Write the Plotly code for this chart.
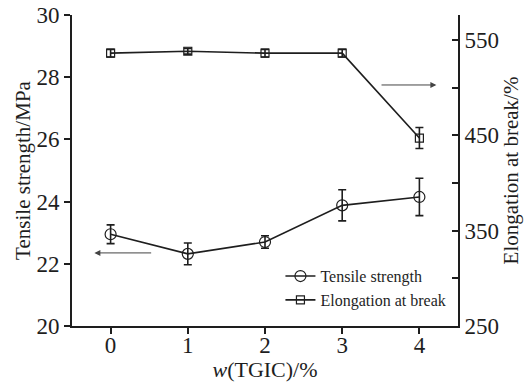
import plotly.graph_objects as go

x_vals = [0, 1, 2, 3, 4]
tensile = [22.95, 22.32, 22.7, 23.88, 24.15]
tensile_err = [0.30, 0.35, 0.2, 0.5, 0.6]
elong = [536, 538, 536, 536, 447]
elong_err = [4, 3, 4, 4, 11]

FONT = "Liberation Serif"
DARK = "#1e1e1e"

fig = go.Figure()
fig.add_trace(go.Scatter(
    x=x_vals, y=tensile, name="Tensile strength", mode="lines+markers",
    line=dict(color=DARK, width=1.6),
    marker=dict(symbol="circle-open", size=11, color=DARK, line=dict(width=1.2)),
    error_y=dict(type="data", array=tensile_err, color=DARK, thickness=1.6, width=4),
    yaxis="y"))
fig.add_trace(go.Scatter(
    x=x_vals, y=elong, name="Elongation at break", mode="lines+markers",
    line=dict(color=DARK, width=1.6),
    marker=dict(symbol="square-open", size=8, color=DARK, line=dict(width=1.2)),
    error_y=dict(type="data", array=elong_err, color=DARK, thickness=1.6, width=4),
    yaxis="y2"))

fig.update_layout(
    width=531, height=382,
    margin=dict(l=72, r=73, t=15, b=56, autoexpand=False),
    paper_bgcolor="white", plot_bgcolor="white",
    font=dict(family=FONT, color=DARK, size=23),
    xaxis=dict(range=[-0.5, 4.5], tickvals=x_vals, ticktext=[str(v) for v in x_vals],
               showline=True, linecolor=DARK, linewidth=2, ticks="outside", ticklen=6,
               tickwidth=2, tickcolor=DARK, showgrid=False, zeroline=False,
               tickfont=dict(size=23), automargin=False, ticklabelstandoff=-9,
               title=dict(text="<i>w</i>(TGIC)/%", font=dict(size=22), standoff=0)),
    yaxis=dict(range=[20, 30], tickvals=[20, 22, 24, 26, 28, 30],
               showline=True, linecolor=DARK, linewidth=2, ticks="outside", ticklen=6,
               tickwidth=2, tickcolor=DARK, showgrid=False, zeroline=False,
               tickfont=dict(size=23), automargin=False,
               title=dict(text="Tensile strength/MPa", font=dict(size=21), standoff=0)),
    yaxis2=dict(range=[250, 576], overlaying="y", side="right",
                tickvals=[250, 300, 350, 400, 450, 500, 550],
                ticktext=["250", "", "350", "", "450", "", "550"],
                showline=True, linecolor=DARK, linewidth=2, ticks="inside", ticklen=6,
                tickwidth=2, tickcolor=DARK, showgrid=False, zeroline=False,
                tickfont=dict(size=23), automargin=False,
                title=dict(text="Elongation at break/%", font=dict(size=21), standoff=4)),
    legend=dict(x=0.54, y=0.215, xanchor="left", yanchor="top",
                bgcolor="rgba(0,0,0,0)", font=dict(size=16), tracegroupgap=0,
                itemwidth=30),
    showlegend=True,
)

fig.add_annotation(x=-0.21, y=22.35, ax=0.545, ay=22.35, xref="x", yref="y",
                   axref="x", ayref="y", showarrow=True, arrowhead=2, arrowsize=1.2,
                   arrowwidth=1, arrowcolor="#444", text="")
fig.add_annotation(x=4.22, y=27.75, ax=3.49, ay=27.75, xref="x", yref="y",
                   axref="x", ayref="y", showarrow=True, arrowhead=2, arrowsize=1.2,
                   arrowwidth=1, arrowcolor="#444", text="")

fig.write_html("out.html")
